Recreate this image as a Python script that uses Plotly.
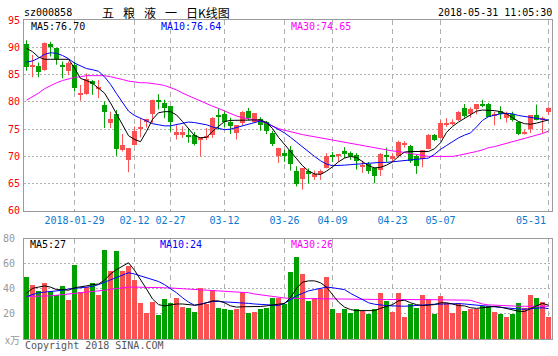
import pandas as pd
import plotly.graph_objects as go

# ---------------- data ----------------
holidays = ['2018-02-15', '2018-02-16', '2018-02-19', '2018-02-20', '2018-02-21',
            '2018-04-05', '2018-04-06', '2018-04-30', '2018-05-01']
dates = [d.strftime('%Y-%m-%d') for d in pd.bdate_range('2018-01-17', '2018-05-31')
         if d.strftime('%Y-%m-%d') not in holidays]

open_ = [90.6, 86.4, 86.6, 85.9, 90.6, 89.8, 86.8, 85.7, 86.8, 81.3,
         81.5, 83.9, 82.3, 79.5, 76.2, 77.8, 71.1, 69.4, 72.1, 75.1,
         76.3, 77.8, 80.2, 79.8, 79.2, 74.1, 74.0, 74.0, 74.0, 73.1,
         73.5, 74.0, 77.5, 77.8, 76.4, 74.3, 76.1, 78.4, 76.4, 76.9,
         76.4, 74.3, 70.0, 70.6, 71.2, 67.3, 65.8, 67.3, 66.2, 66.7,
         67.8, 70.2, 70.0, 71.0, 70.6, 70.2, 68.2, 68.6, 67.8, 67.6,
         70.2, 69.6, 70.0, 72.2, 72.0, 70.0, 69.6, 71.4, 73.9, 73.3,
         75.9, 76.1, 76.6, 78.8, 77.7, 78.6, 79.6, 79.6, 77.4, 78.3,
         77.0, 77.7, 76.4, 74.1, 75.1, 77.6, 76.7, 78.1]
high = [91.3, 88.6, 87.2, 90.9, 91.0, 89.9, 87.4, 87.4, 87.4, 83.1,
        85.2, 84.0, 84.0, 80.1, 78.2, 78.5, 74.1, 71.5, 75.5, 77.0,
        76.9, 80.4, 81.4, 80.4, 79.2, 75.7, 75.5, 75.2, 74.5, 73.5,
        75.2, 77.2, 78.8, 78.3, 77.1, 75.7, 78.3, 78.9, 77.9, 77.2,
        76.5, 74.7, 71.6, 71.2, 71.9, 68.2, 67.8, 67.8, 67.4, 67.6,
        70.6, 70.8, 70.4, 71.7, 70.9, 70.6, 69.2, 69.0, 68.0, 70.6,
        71.6, 70.6, 72.9, 72.8, 72.1, 70.3, 71.2, 74.1, 74.1, 76.7,
        77.0, 76.8, 78.3, 79.6, 79.0, 79.6, 80.4, 79.8, 78.2, 79.2,
        78.2, 78.2, 76.4, 74.9, 77.6, 79.5, 77.3, 79.1]
low = [85.7, 84.5, 84.5, 85.7, 88.3, 86.8, 84.3, 84.9, 81.9, 80.2,
       81.3, 81.3, 80.7, 75.2, 75.2, 70.1, 70.9, 67.1, 72.0, 73.5,
       75.3, 76.1, 78.6, 77.0, 74.5, 73.1, 73.4, 72.5, 72.0, 70.0,
       73.0, 73.4, 74.9, 75.3, 74.1, 73.1, 75.7, 76.6, 76.1, 74.7,
       74.1, 71.9, 68.8, 69.0, 67.4, 64.5, 63.9, 65.0, 65.7, 65.7,
       67.8, 69.0, 69.0, 69.7, 69.4, 67.6, 67.0, 66.8, 65.1, 66.4,
       69.0, 69.1, 69.8, 71.6, 68.8, 66.8, 68.0, 71.3, 72.8, 73.3,
       75.4, 75.7, 76.5, 77.1, 77.1, 77.7, 79.0, 77.2, 75.7, 76.8,
       76.2, 76.4, 73.9, 74.0, 74.3, 76.6, 74.3, 77.6]
close = [86.3, 86.6, 85.5, 90.7, 90.0, 87.8, 86.3, 87.2, 82.5, 81.7,
         84.1, 83.2, 82.7, 78.2, 76.8, 71.3, 72.1, 71.5, 74.6, 75.3,
         76.9, 80.4, 80.0, 78.8, 76.4, 74.4, 74.5, 73.5, 72.3, 73.5,
         73.7, 77.1, 77.3, 76.4, 75.5, 75.7, 78.1, 77.0, 77.9, 75.7,
         74.7, 72.3, 71.6, 70.1, 68.6, 65.0, 67.8, 66.7, 66.8, 67.4,
         70.0, 70.0, 70.4, 70.5, 70.1, 69.1, 68.4, 67.3, 66.5, 70.4,
         70.0, 70.0, 72.7, 72.4, 69.2, 68.2, 71.2, 74.0, 73.1, 76.1,
         76.1, 76.4, 78.1, 77.4, 78.6, 79.6, 79.4, 77.2, 77.8, 77.7,
         77.8, 76.7, 74.1, 74.5, 77.6, 76.7, 77.0, 78.9]

ma5 = [89.8, 89.2, 88.2, 87.8, 87.8, 87.8, 87.9, 87.8, 86.2, 84.3,
       83.9, 83.4, 82.5, 81.6, 79.8, 77.8, 75.8, 73.8, 73.1, 72.7,
       74.6, 76.8, 78.0, 78.2, 78.2, 77.6, 76.4, 75.2, 73.8, 73.4,
       73.5, 74.6, 75.5, 76.4, 76.6, 76.6, 76.6, 76.7, 76.7, 76.7,
       76.2, 75.1, 73.5, 72.2, 70.8, 69.4, 68.3, 67.3, 66.8, 66.7,
       67.3, 68.1, 69.0, 69.7, 70.0, 69.8, 69.0, 68.3, 67.9, 68.0,
       68.4, 69.0, 70.0, 70.8, 70.9, 70.9, 70.8, 70.9, 71.4, 72.5,
       74.4, 75.5, 76.3, 77.0, 77.6, 78.3, 78.5, 78.5, 78.4, 78.2,
       77.8, 77.1, 76.4, 76.0, 75.9, 76.1, 76.4, 76.70]
ma10 = [87.3, 87.5, 88.0, 88.7, 89.0, 88.9, 88.5, 87.9, 87.1, 86.6,
        86.1, 85.9, 85.6, 84.6, 83.2, 81.5, 79.8, 78.3, 77.5, 77.0,
        76.4, 76.0, 75.8, 75.6, 75.6, 75.8, 76.1, 76.3, 76.2, 76.0,
        75.8, 75.4, 75.1, 74.9, 75.0, 75.3, 75.7, 76.0, 76.3, 76.5,
        76.2, 75.6, 75.0, 74.3, 73.5, 72.6, 71.7, 70.8, 70.0, 69.2,
        68.6, 68.3, 68.3, 68.4, 68.5, 68.6, 68.6, 68.7, 68.8, 68.9,
        68.9, 69.0, 69.2, 69.3, 69.4, 69.4, 69.5, 69.7, 70.4, 71.3,
        72.0, 72.7, 73.4, 73.9, 74.3, 75.4, 76.6, 77.3, 77.6, 77.8,
        77.9, 77.8, 77.5, 77.3, 77.1, 76.9, 76.7, 76.64]
ma30 = [80.3, 80.9, 81.6, 82.4, 83.0, 83.5, 83.9, 84.2, 84.5, 84.6,
        84.8, 84.8, 84.8, 84.8, 84.6, 84.4, 84.1, 83.8, 83.6, 83.5,
        83.5, 83.4, 83.2, 83.0, 82.6, 82.2, 81.6, 81.1, 80.6, 80.1,
        79.7, 79.2, 78.8, 78.3, 77.8, 77.4, 77.1, 76.9, 76.7, 76.5,
        76.0, 75.5, 75.1, 74.8, 74.5, 74.3, 74.0, 73.8, 73.6, 73.4,
        73.2, 73.0, 72.8, 72.6, 72.3, 72.1, 71.9, 71.7, 71.5, 71.3,
        71.2, 71.0, 70.9, 70.7, 70.5, 70.3, 70.1, 70.0, 70.0, 70.0,
        70.0, 70.0, 70.2, 70.4, 70.6, 70.9, 71.2, 71.6, 71.8, 72.1,
        72.4, 72.6, 72.9, 73.2, 73.5, 73.9, 74.2, 74.65]

volume = [49.6, 43.5, 38.1, 45.1, 38.1, 35.5, 42.7, 31.5, 59.5, 37.6,
          41.6, 45.1, 35.5, 71.5, 54.7, 70.7, 54.7, 58.7, 47.0, 29.1,
          21.1, 29.9, 19.5, 32.3, 29.1, 33.1, 25.9, 25.1, 21.9, 41.1,
          28.3, 39.5, 25.1, 24.3, 23.5, 24.3, 37.9, 21.1, 21.9, 24.3,
          25.1, 33.1, 32.5, 28.0, 54.0, 66.0, 52.0, 30.6, 33.2, 40.0,
          50.0, 24.4, 21.1, 24.3, 21.0, 24.3, 22.4, 20.3, 24.3, 37.0,
          30.7, 21.9, 37.0, 17.9, 28.3, 25.0, 35.5, 32.3, 20.3, 34.7,
          29.0, 21.1, 29.0, 22.7, 24.0, 24.0, 26.7, 26.7, 21.9, 19.7,
          17.9, 20.3, 29.0, 25.0, 35.5, 33.0, 30.0, 17.9]
vol_ma5 = [36.5, 40.5, 41.5, 42.5, 41.5, 39.5, 39.5, 39.0, 41.0, 41.5,
           42.5, 43.5, 44.0, 47.0, 52.0, 55.5, 58.0, 61.0, 55.0, 48.0,
           40.0, 32.0, 27.5, 26.5, 27.5, 28.0, 28.0, 27.5, 27.0, 27.5,
           29.0, 30.5, 30.5, 29.0, 26.5, 25.5, 25.8, 25.8, 25.8, 26.0,
           26.5, 27.0, 27.5, 28.5, 33.0, 40.5, 45.5, 46.5, 46.5, 45.0,
           41.5, 35.0, 29.5, 25.5, 23.5, 22.7, 22.7, 22.7, 22.7, 24.5,
           26.0, 27.5, 30.5, 31.0, 29.0, 27.5, 26.7, 27.0, 27.5, 29.0,
           29.0, 28.0, 26.7, 26.5, 25.0, 24.5, 24.8, 25.5, 26.0, 25.5,
           24.5, 23.5, 22.2, 22.0, 24.5, 26.5, 28.5, 27.0]
vol_ma10 = [34.0, 35.5, 37.0, 37.5, 38.0, 38.0, 39.0, 40.0, 40.5, 40.8,
            41.5, 42.0, 43.5, 45.5, 47.5, 49.5, 51.0, 53.0, 52.0, 50.5,
            48.5, 47.0, 46.0, 43.5, 40.5, 37.0, 33.0, 29.5, 27.0, 28.0,
            29.5, 30.0, 30.0, 29.8, 29.5, 29.0, 28.8, 28.5, 28.0, 27.8,
            27.5, 27.0, 26.8, 28.5, 31.5, 34.5, 36.5, 38.5, 39.5, 40.5,
            41.5, 41.0, 40.0, 39.5, 36.5, 34.0, 31.5, 29.0, 27.8, 27.0,
            26.7, 26.5, 26.2, 26.2, 26.5, 27.0, 27.3, 27.5, 27.8, 28.0,
            28.3, 28.3, 28.3, 28.0, 27.5, 27.0, 26.7, 26.3, 25.8, 25.3,
            24.8, 24.3, 24.0, 23.8, 24.0, 24.5, 25.0, 24.3]
vol_ma30 = [34.0, 34.0, 34.0, 34.2, 34.5, 35.0, 35.5, 36.0, 36.5, 36.8,
            37.0, 37.5, 38.0, 39.0, 39.8, 40.5, 41.0, 41.5, 41.5, 41.5,
            41.3, 41.0, 41.0, 41.0, 40.8, 40.5, 40.3, 40.0, 39.8, 39.5,
            39.5, 39.0, 38.5, 38.3, 38.0, 37.5, 37.3, 37.0, 36.0, 35.3,
            34.6, 34.0, 33.4, 32.8, 32.5, 32.4, 32.3, 32.3, 32.2, 32.2,
            32.1, 32.0, 32.0, 31.9, 31.8, 31.8, 31.7, 31.7, 31.6, 31.6,
            31.6, 31.5, 31.5, 31.5, 31.5, 31.5, 31.5, 31.5, 31.5, 31.5,
            31.5, 31.5, 31.5, 31.5, 31.0, 29.5, 28.0, 27.3, 27.0, 26.8,
            26.5, 26.3, 26.2, 26.2, 26.2, 26.2, 26.2, 26.2]

tick_dates = ['2018-01-29', '2018-02-12', '2018-02-27', '2018-03-12', '2018-03-26',
              '2018-04-09', '2018-04-23', '2018-05-07', '2018-05-31']
tick_labels = ['2018-01-29', '02-12', '02-27', '03-12', '03-26',
               '04-09', '04-23', '05-07', '05-31']
price_ticks = [60, 65, 70, 75, 80, 85, 90, 95]
vol_ticks = [20, 40, 60, 80]

# ---------------- style ----------------
RED = '#fa5252'
GREEN = '#00a000'
BLUE_TXT = '#0a78d2'
MONO = 'DejaVu Sans Mono'
FRAME = '#9a9a9a'
GRID = '#b0b0b0'

fig = go.Figure()

up = [c >= o for o, c in zip(open_, close)]


def wick_xy(flag):
    xs, ys = [], []
    for d, h, l, u in zip(dates, high, low, up):
        if u == flag:
            xs += [d, d, None]
            ys += [l, h, None]
    return xs, ys


for flag, col in ((True, RED), (False, GREEN)):
    wx, wy = wick_xy(flag)
    fig.add_trace(go.Scatter(x=wx, y=wy, mode='lines', line=dict(color=col, width=1),
                             xaxis='x', yaxis='y', hoverinfo='skip', showlegend=False))

for flag, col in ((True, RED), (False, GREEN)):
    idx = [i for i in range(len(dates)) if up[i] == flag]
    fig.add_trace(go.Bar(
        x=[dates[i] for i in idx],
        y=[abs(close[i] - open_[i]) for i in idx],
        base=[min(open_[i], close[i]) for i in idx],
        width=0.84, marker=dict(color=col, line=dict(width=0)),
        xaxis='x', yaxis='y', showlegend=False, hoverinfo='skip'))
    fig.add_trace(go.Bar(
        x=[dates[i] for i in idx],
        y=[volume[i] for i in idx],
        width=0.84, marker=dict(color=col, line=dict(width=0)),
        xaxis='x2', yaxis='y2', showlegend=False, hoverinfo='skip'))

for series, col in ((ma30, '#ff00ff'), (ma10, '#0000ff'), (ma5, '#000000')):
    fig.add_trace(go.Scatter(x=dates, y=series, mode='lines', line=dict(color=col, width=1),
                             xaxis='x', yaxis='y', showlegend=False, hoverinfo='skip'))
for series, col in ((vol_ma30, '#ff00ff'), (vol_ma10, '#0000ff'), (vol_ma5, '#000000')):
    fig.add_trace(go.Scatter(x=dates, y=series, mode='lines', line=dict(color=col, width=1),
                             xaxis='x2', yaxis='y2', showlegend=False, hoverinfo='skip'))

# the last date label is drawn right-aligned inside the frame (as in the original)
shown_labels = tick_labels[:-1] + ['']

n = len(dates)
xrange_ = [-0.42, n - 0.42]
xcommon = dict(type='category', categoryorder='array', categoryarray=dates,
               range=xrange_, tickmode='array', tickvals=tick_dates,
               showgrid=True, gridcolor=GRID, griddash='5px,4px', gridwidth=1,
               showline=True, mirror=True, linecolor=FRAME, linewidth=1,
               ticks='', zeroline=False, fixedrange=True, automargin=False)

fig.update_layout(
    width=558, height=356,
    margin=dict(l=24, r=6, t=20, b=17),
    paper_bgcolor='white', plot_bgcolor='white',
    barmode='overlay', bargap=0, showlegend=False,
    font=dict(family=MONO, size=10, color='#000'),
    xaxis=dict(xcommon, anchor='y', domain=[0, 1], ticktext=shown_labels,
               tickfont=dict(family=MONO, size=10, color=BLUE_TXT)),
    xaxis2=dict(xcommon, anchor='y2', domain=[0, 1], matches='x', showticklabels=False),
    yaxis=dict(domain=[0.4013, 1], range=[60, 95], tickmode='array', tickvals=price_ticks,
               tickfont=dict(family=MONO, size=10, color='#ff0000'),
               showgrid=True, gridcolor=GRID, griddash='2px,2px', gridwidth=1,
               showline=True, mirror=True, linecolor=FRAME, linewidth=1,
               ticks='', zeroline=False, fixedrange=True, automargin=False,
               ticklabelstandoff=1),
    yaxis2=dict(domain=[0, 0.3135], range=[0, 80], tickmode='array', tickvals=vol_ticks,
                tickfont=dict(family=MONO, size=10, color='#999999'),
                showgrid=True, gridcolor=GRID, griddash='2px,2px', gridwidth=1,
                showline=True, mirror=True, linecolor=FRAME, linewidth=1,
                ticks='', zeroline=False, fixedrange=True, automargin=False,
                ticklabelstandoff=6),
)

fig.add_annotation(text=tick_labels[-1], x=tick_dates[-1], xref='x', y=0.373, yref='paper',
                   xanchor='right', yanchor='middle', xshift=-1, showarrow=False,
                   font=dict(family=MONO, size=10, color=BLUE_TXT))


def note(text, x, y, color='#000', xanchor='left', size=10, family=MONO):
    fig.add_annotation(text=text, x=x, y=y, xref='paper', yref='paper',
                       xanchor=xanchor, yanchor='middle', showarrow=False,
                       font=dict(family=family, size=size, color=color))


note('sz000858', -0.004, 1.025)
note('五\u2002\u2005粮\u2002\u2005液\u2002\u2005一\u2002\u2005日K线图', 0.269, 1.025,
     xanchor='center', size=12, family='Noto Sans CJK SC')
note('2018-05-31 11:05:30', 1.004, 1.025, xanchor='right')
note(f'MA5:{ma5[-1]:.2f}', 0.0095, 0.981)
note(f'MA10:{ma10[-1]:.2f}', 0.2557, 0.981, color='#0000ff')
note(f'MA30:{ma30[-1]:.2f}', 0.502, 0.981, color='#ff00ff')
note(f'MA5:{vol_ma5[-1]:.0f}', 0.0076, 0.2947)
note(f'MA10:{vol_ma10[-1]:.0f}', 0.2538, 0.2947, color='#0000ff')
note(f'MA30:{vol_ma30[-1]:.0f}', 0.502, 0.2947, color='#ff00ff')
note('x万', -0.04, 0.0, color='#999999', family='Noto Sans CJK SC')
note('Copyright 2018 SINA.COM', -0.002, -0.019, color='#555555')

fig.write_html('out.html', config={'displayModeBar': False},
               post_script="document.body.style.margin='0';document.body.style.padding='0';")
